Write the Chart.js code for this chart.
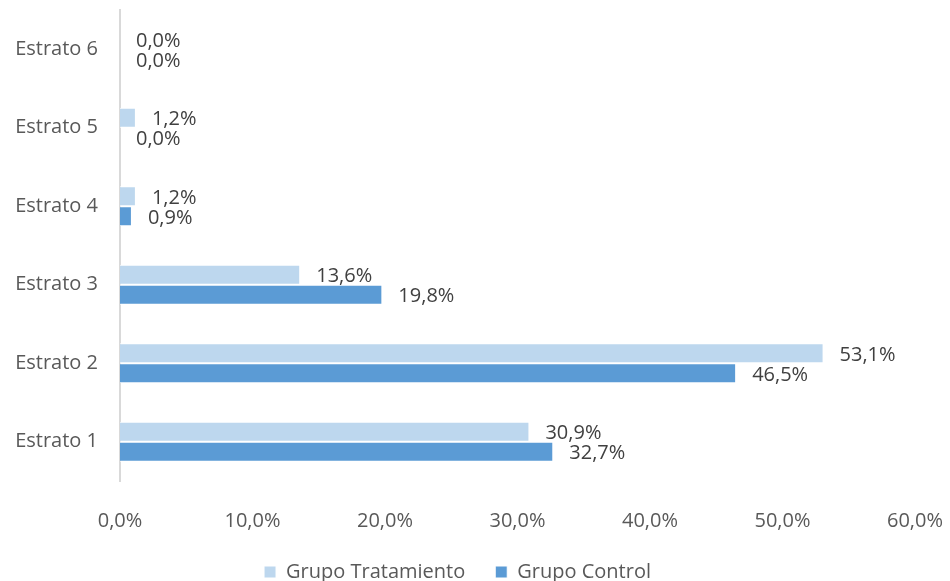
<!DOCTYPE html>
<html>
<head>
<meta charset="utf-8">
<script src="https://cdn.jsdelivr.net/npm/chart.js@4"></script>
<style>
  html, body { margin: 0; padding: 0; background: #fff; }
  #wrap { width: 950px; height: 581px; }
</style>
</head>
<body>
<div id="wrap"><canvas id="estratoChart" width="950" height="581"></canvas></div>
<script>
// strata, top to bottom
const estratos = ["Estrato 6", "Estrato 5", "Estrato 4", "Estrato 3", "Estrato 2", "Estrato 1"];
const tratamiento = [0.0, 1.2, 1.2, 13.6, 53.1, 30.9];
const control = [0.0, 0.0, 0.9, 19.8, 46.5, 32.7];
const xTicks = [0, 10, 20, 30, 40, 50, 60];

const FONT = "'Open Sans', Lato, sans-serif";

function pct(v) {
  return v.toFixed(1).replace(".", ",") + "%";
}

// value labels drawn just past the end of each bar
const barLabels = {
  id: "barLabels",
  afterDatasetsDraw(chart) {
    const ctx = chart.ctx;
    ctx.save();
    ctx.font = "20px " + FONT;
    ctx.fillStyle = "#404040";
    ctx.textAlign = "left";
    ctx.textBaseline = "middle";
    chart.data.datasets.forEach((ds, i) => {
      chart.getDatasetMeta(i).data.forEach((bar, j) => {
        ctx.fillText(pct(ds.data[j]), bar.x + 16, bar.y + 2);
      });
    });
    ctx.restore();
  }
};

const ctx = document.getElementById("estratoChart").getContext("2d");
const chart = new Chart(ctx, {
  type: "bar",
  data: {
    labels: estratos,
    datasets: [
      {
        label: "Grupo Tratamiento",
        data: tratamiento,
        backgroundColor: "#BDD7EE",
        borderColor: "#ffffff",
        borderWidth: 1,
        categoryPercentage: 0.51,
        barPercentage: 1
      },
      {
        label: "Grupo Control",
        data: control,
        backgroundColor: "#5B9BD5",
        borderColor: "#ffffff",
        borderWidth: 1,
        categoryPercentage: 0.51,
        barPercentage: 1
      }
    ]
  },
  options: {
    indexAxis: "y",
    responsive: false,
    animation: false,
    layout: { padding: { top: 10, right: 35, left: 0, bottom: -11 } },
    scales: {
      x: {
        min: 0,
        max: 60,
        afterBuildTicks(scale) {
          scale.ticks = xTicks.map(v => ({ value: v }));
        },
        afterFit(scale) {
          scale.height = 51;
          scale.paddingLeft = 0;
          scale.paddingRight = 0;
        },
        grid: { display: false, drawTicks: false },
        border: { display: false },
        ticks: {
          padding: 28,
          color: "#595959",
          font: { family: FONT, size: 20 },
          callback: v => pct(v)
        }
      },
      y: {
        afterFit(scale) {
          scale.width = 120;
          scale.paddingTop = 0;
          scale.paddingBottom = 0;
        },
        grid: { display: false, drawTicks: false },
        border: { display: true, color: "#D9D9D9", width: 2 },
        ticks: {
          padding: 22,
          color: "#595959",
          font: { family: FONT, size: 20 }
        }
      }
    },
    plugins: {
      tooltip: { enabled: false },
      legend: {
        position: "bottom",
        labels: {
          boxWidth: 12,
          boxHeight: 12,
          padding: 30,
          color: "#595959",
          font: { family: FONT, size: 20 }
        }
      }
    }
  },
  plugins: [barLabels]
});
</script>
</body>
</html>
